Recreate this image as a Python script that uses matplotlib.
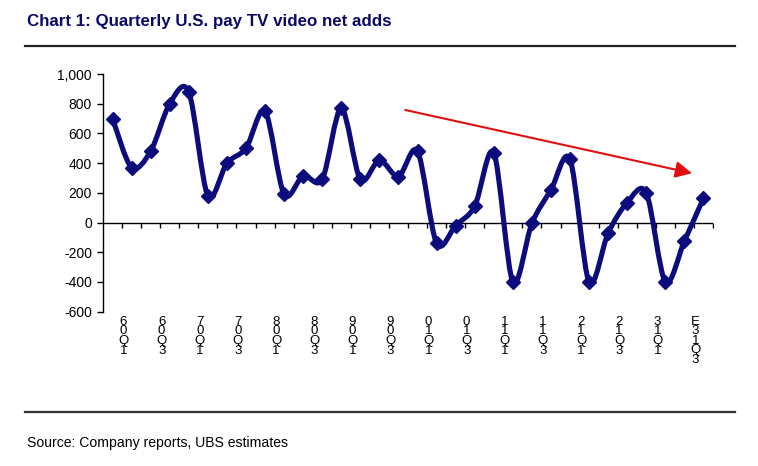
import matplotlib
matplotlib.use("Agg")
import matplotlib.pyplot as plt
import matplotlib.transforms as mtransforms
from matplotlib.path import Path
from matplotlib.patches import PathPatch
from matplotlib.lines import Line2D
from matplotlib.ticker import FuncFormatter

# Quarterly U.S. pay TV video net adds (thousands)
quarters = ["1Q06", "2Q06", "3Q06", "4Q06", "1Q07", "2Q07", "3Q07", "4Q07",
            "1Q08", "2Q08", "3Q08", "4Q08", "1Q09", "2Q09", "3Q09", "4Q09",
            "1Q10", "2Q10", "3Q10", "4Q10", "1Q11", "2Q11", "3Q11", "4Q11",
            "1Q12", "2Q12", "3Q12", "4Q12", "1Q13", "2Q13", "3Q13E", "4Q13E"]
net_adds = [700, 370, 480, 800, 880, 180, 400, 500,
            750, 190, 315, 290, 770, 290, 420, 310,
            480, -140, -20, 110, 470, -400, -5, 220,
            425, -400, -70, 135, 200, -400, -125, 165]
y_ticks = [-600, -400, -200, 0, 200, 400, 600, 800, 1000]

# trend arrow (category index, value)
arrow_start = (15.35, 758)
arrow_end = (30.4, 332)

NAVY = "#0c0c7c"
RED = "#e01010"
plt.rcParams["font.family"] = ["Liberation Sans", "DejaVu Sans"]

W, H = 758, 466
fig = plt.figure(figsize=(W / 100, H / 100), dpi=100)
ax = fig.add_axes([103 / W, 1 - 311.7 / H, 610 / W, (311.7 - 74) / H])

x = list(range(len(net_adds)))
pts = list(zip(x, net_adds))


def smooth_path(p, t=1 / 6.5):
    # Excel-like smoothed line: Catmull-Rom segments as cubic Beziers
    verts = [p[0]]
    codes = [Path.MOVETO]
    n = len(p)
    for i in range(n - 1):
        p0 = p[i - 1] if i > 0 else p[i]
        p1, p2 = p[i], p[i + 1]
        p3 = p[i + 2] if i + 2 < n else p[i + 1]
        c1 = (p1[0] + (p2[0] - p0[0]) * t, p1[1] + (p2[1] - p0[1]) * t)
        c2 = (p2[0] - (p3[0] - p1[0]) * t, p2[1] - (p3[1] - p1[1]) * t)
        verts += [c1, c2, p2]
        codes += [Path.CURVE4] * 3
    return Path(verts, codes)


ax.add_patch(PathPatch(smooth_path(pts), facecolor="none", edgecolor=NAVY,
                       lw=3.7, capstyle="round", joinstyle="round", zorder=3))
ax.plot(x, net_adds, linestyle="none", marker="D", ms=7, color=NAVY,
        mec=NAVY, mew=1, zorder=4)

ax.set_xlim(-0.5, len(net_adds) - 0.5)
ax.set_ylim(-600, 1000)

# zero line with category tick marks
ax.axhline(0, color="black", lw=1, zorder=2)
bounds = [k + 0.5 for k in range(len(net_adds))]
ax.plot(bounds, [0] * len(bounds), linestyle="none", marker=3, ms=3.8,
        mew=1, color="black", zorder=2)

for s in ["top", "right", "bottom"]:
    ax.spines[s].set_visible(False)
ax.spines["left"].set_linewidth(1)
ax.set_xticks([])
ax.set_yticks(y_ticks)
ax.yaxis.set_major_formatter(FuncFormatter(lambda v, _: f"{v:,.0f}"))
ax.tick_params(axis="y", direction="out", length=4, width=1, pad=4,
               labelsize=10)

# stacked, reversed category labels under the plot (one text per character)
trans = mtransforms.blended_transform_factory(ax.transData, fig.transFigure)
trans = mtransforms.offset_copy(trans, fig=fig, x=11, y=0, units="dots")
for k in range(0, len(quarters), 2):
    for j, ch in enumerate(reversed(quarters[k])):
        ax.text(k, 1 - (316 + j * 9.5) / H, ch, transform=trans, ha="center",
                va="top", fontsize=9.5, clip_on=False)

ax.annotate("", xy=arrow_end, xytext=arrow_start,
            arrowprops=dict(arrowstyle="-|>,head_length=0.5,head_width=0.25",
                            color=RED, lw=1.5, mutation_scale=20,
                            shrinkA=0, shrinkB=0), zorder=5)

fig.text(27 / W, 1 - 25.7 / H, "Chart 1: Quarterly U.S. pay TV video net adds",
         weight="bold", fontsize=12.2, color="#0a0a66", va="baseline")
fig.add_artist(Line2D([25 / W, 735 / W], [1 - 45.5 / H] * 2, lw=1.6,
                      color="#222222"))
fig.add_artist(Line2D([25 / W, 735 / W], [1 - 411.5 / H] * 2, lw=1.6,
                      color="#333333"))
fig.text(27 / W, 1 - 446.7 / H, "Source: Company reports, UBS estimates",
         fontsize=10.1, va="baseline")

fig.savefig("out.png", dpi=100)
